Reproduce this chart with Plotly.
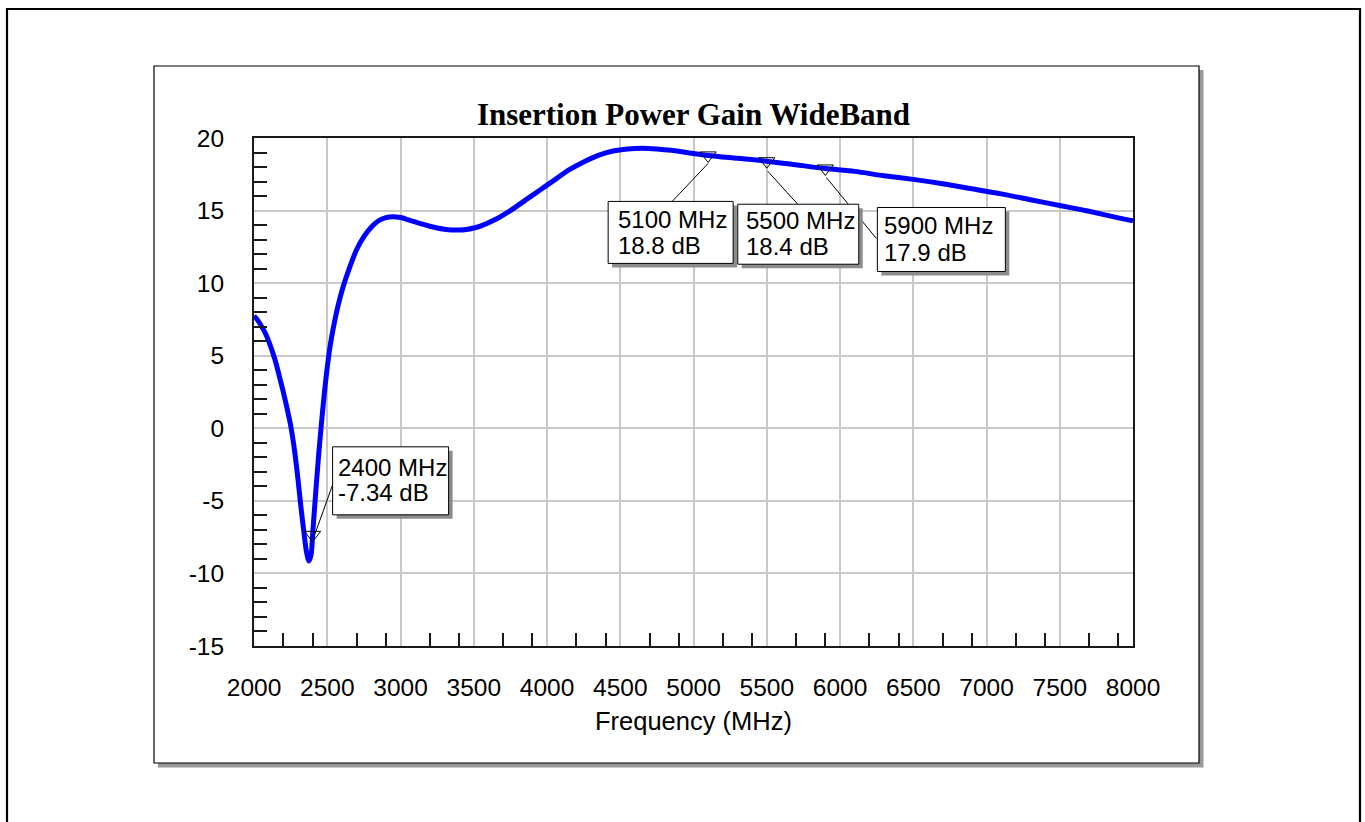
import plotly.graph_objects as go

# ---- data -------------------------------------------------------------
freq_mhz = [2000, 2025, 2050, 2075, 2100, 2125, 2150, 2175, 2200, 2225, 2250,
            2275, 2300, 2320, 2340, 2358, 2375, 2390, 2400, 2420, 2440, 2460,
            2480, 2500, 2520, 2545, 2575, 2610, 2650, 2700, 2750, 2800, 2850,
            2900, 2950, 3000, 3050, 3100, 3150, 3200, 3250, 3300, 3350, 3400,
            3450, 3500, 3550, 3650, 3750, 3850, 3950, 4050, 4150, 4250, 4350,
            4450, 4550, 4650, 4750, 4850, 4950, 5100, 5300, 5500, 5700, 5900,
            6100, 6300, 6500, 6700, 6900, 7100, 7300, 7500, 7700, 7900, 8000]
gain_db = [7.75, 7.45, 7.05, 6.6, 6.0, 5.3, 4.5, 3.5, 2.5, 1.4, 0.2,
           -1.4, -3.5, -5.4, -7.1, -8.5, -9.15, -8.7, -7.34, -4.6, -2.0, 0.3,
           2.4, 4.2, 5.7, 7.1, 8.5, 9.8, 11.0, 12.3, 13.2, 13.85, 14.3,
           14.52, 14.58, 14.52, 14.38, 14.22, 14.06, 13.92, 13.8, 13.72, 13.67, 13.66,
           13.7, 13.8, 13.95, 14.4, 15.0, 15.7, 16.4, 17.1, 17.8, 18.35, 18.8,
           19.1, 19.25, 19.3, 19.25, 19.15, 19.0, 18.8, 18.6, 18.4, 18.15, 17.9,
           17.7, 17.4, 17.15, 16.85, 16.5, 16.15, 15.75, 15.35, 14.95, 14.5, 14.3]

marker_freq = [2400, 5100, 5500, 5900]
marker_gain = [-7.34, 18.8, 18.4, 17.9]

x_major = list(range(2000, 8001, 500))
x_minor = [m + d for m in range(2000, 8000, 500) for d in (200, 400)]
y_major = list(range(-15, 21, 5))
y_minor = [v for v in range(-15, 21) if v % 5 != 0]

# ---- geometry ---------------------------------------------------------
W, H = 1365, 822
L, R, T, B = 254, 1133, 138, 646  # plot area in pixels


def px(xpix):
    return (xpix - L) / (R - L)


def py(ypix):
    return (B - ypix) / (B - T)


SANS = "Arial, 'Liberation Sans', sans-serif"
SERIF = "'Times New Roman', 'Liberation Serif', serif"
FS_TICK = 24.5
FS_LABEL = 24
FS_TITLE_X = 25.5

# label callouts: box (left, right, top, bottom), leader (x0, y0, x1, y1),
# text left and two baselines; all in screen pixels relative to the marker
callouts = [
    dict(box=(20, 136, -88, -20), lead=(1, 3, 20, -50), tx=23, base=(-59, -34)),
    dict(box=(-100, 25, 46, 108), lead=(0, 8, -36, 46), tx=-92, base=(72, 98)),
    dict(box=(-29, 92, 43, 103), lead=(1, 10, 31, 43), tx=-23, base=(68, 94)),
    dict(box=(52, 180, 39, 103), lead=(1, 9, 51, 70), tx=57, base=(65, 92)),
]

fig = go.Figure()

fig.add_trace(go.Scatter(
    x=freq_mhz, y=gain_db, mode="lines",
    line=dict(color="#0000ff", width=5, shape="spline", smoothing=0.8),
    hoverinfo="skip", showlegend=False,
))
fig.add_trace(go.Scatter(
    x=marker_freq, y=marker_gain, mode="markers",
    marker=dict(symbol="triangle-down-open", size=14, color="#000000",
                line=dict(width=1, color="#000000")),
    hoverinfo="skip", showlegend=False,
))

shapes = []
# outer frame and chart panel with drop shadow
shapes.append(dict(type="rect", xref="paper", yref="paper", layer="below",
                   x0=px(7), x1=px(1360), y0=py(9), y1=py(840),
                   line=dict(color="#000000", width=2.2)))
shapes.append(dict(type="rect", xref="paper", yref="paper", layer="below",
                   x0=px(158), x1=px(1203.5), y0=py(70), y1=py(767.5),
                   fillcolor="#999999", line=dict(width=0)))
shapes.append(dict(type="rect", xref="paper", yref="paper", layer="below",
                   x0=px(154), x1=px(1199), y0=py(66), y1=py(763),
                   fillcolor="#ffffff", line=dict(color="#000000", width=1.2)))


def pix_shape(kind, f, g, x0, y0, x1, y1, **kw):
    # screen offsets (y downwards) -> plotly pixel offsets (y upwards)
    return dict(type=kind, xref="x", yref="y",
                xsizemode="pixel", ysizemode="pixel",
                xanchor=f, yanchor=g,
                x0=x0, x1=x1, y0=-y0, y1=-y1, layer="above", **kw)


for f, g, c in zip(marker_freq, marker_gain, callouts):
    lx0, ly0, lx1, ly1 = c["lead"]
    shapes.append(pix_shape("line", f, g, lx0, ly0, lx1, ly1,
                            line=dict(color="#000000", width=1)))

for f, g, c in zip(marker_freq, marker_gain, callouts):
    bx0, bx1, by0, by1 = c["box"]
    shapes.append(pix_shape("rect", f, g, bx0 + 4, by0 + 4, bx1 + 4, by1 + 4,
                            fillcolor="#8c8c8c", line=dict(width=0)))
    shapes.append(pix_shape("rect", f, g, bx0, by0, bx1, by1,
                            fillcolor="#ffffff",
                            line=dict(color="#000000", width=1)))

annotations = []
for f, g, c in zip(marker_freq, marker_gain, callouts):
    lines = [f"{f} MHz", f"{g:g} dB"]
    for text, base in zip(lines, c["base"]):
        annotations.append(dict(
            x=f, y=g, xref="x", yref="y", text=text, showarrow=False,
            xanchor="left", yanchor="middle",
            xshift=c["tx"], yshift=-(base - 0.35 * FS_LABEL),
            font=dict(family=SANS, size=FS_LABEL, color="#000000"),
        ))

annotations.append(dict(
    x=0.5, y=py(721), xref="paper", yref="paper", text="Frequency (MHz)",
    showarrow=False, xanchor="center", yanchor="middle",
    font=dict(family=SANS, size=FS_TITLE_X, color="#000000"),
))

axis_common = dict(
    showgrid=True, gridcolor="#c8c8c8", gridwidth=1.5,
    showline=True, linecolor="#1a1a1a", linewidth=2, mirror=True,
    zeroline=False, ticks="",
    tickfont=dict(family=SANS, size=FS_TICK, color="#000000"),
)

fig.update_layout(
    width=W, height=H, autosize=False,
    margin=dict(l=L, r=W - R, t=T, b=H - B, pad=0),
    paper_bgcolor="#ffffff", plot_bgcolor="#ffffff",
    title=dict(text="Insertion Power Gain WideBand",
               font=dict(family=SERIF, size=31, color="#000000", weight="bold"),
               x=(L + R) / 2 / W, xanchor="center", xref="container",
               y=1 - 114 / H, yanchor="middle", yref="container"),
    xaxis=dict(range=[2000, 8000], tickmode="array", tickvals=x_major,
               ticktext=[str(v) for v in x_major], ticklabelstandoff=19,
               minor=dict(tickmode="array", tickvals=x_minor, ticks="inside",
                          ticklen=13, tickwidth=1.5, tickcolor="#1a1a1a",
                          showgrid=False),
               **axis_common),
    yaxis=dict(range=[-15, 20], tickmode="array", tickvals=y_major,
               ticktext=[str(v) for v in y_major], ticklabelstandoff=23,
               minor=dict(tickmode="array", tickvals=y_minor, ticks="inside",
                          ticklen=13, tickwidth=1.5, tickcolor="#1a1a1a",
                          showgrid=False),
               **axis_common),
    shapes=shapes,
    annotations=annotations,
    showlegend=False,
)

fig.write_html("out.html")
